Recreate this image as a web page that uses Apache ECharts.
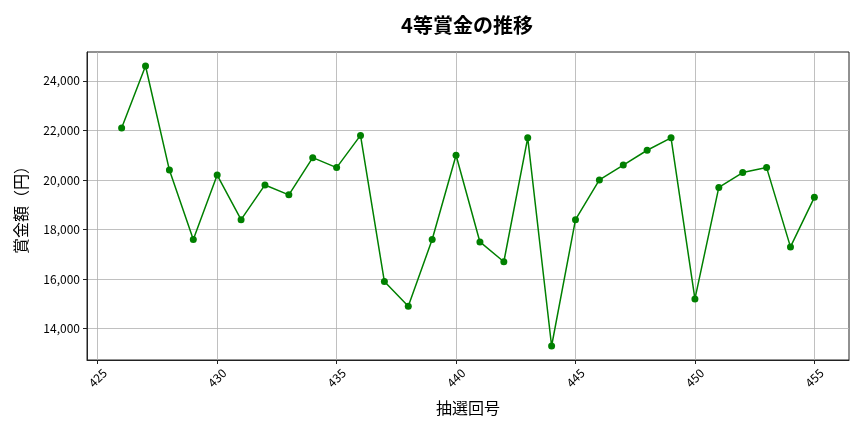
<!DOCTYPE html>
<html>
<head>
<meta charset="utf-8">
<script src="https://cdn.jsdelivr.net/npm/echarts@6/dist/echarts.min.js"></script>
<style>html,body{margin:0;padding:0;background:#fff}#c{width:864px;height:432px}</style>
</head>
<body>
<div id="c"></div>
<script>
const draws = [426,427,428,429,430,431,432,433,434,435,436,437,438,439,440,441,442,443,444,445,446,447,448,449,450,451,452,453,454,455];
const prizes = [22100,24600,20400,17600,20200,18400,19800,19400,20900,20500,21800,15900,14900,17600,21000,17500,16700,21700,13300,18400,20000,20600,21200,21700,15200,19700,20300,20500,17300,19300];
const xTicks = [425,430,435,440,445,450,455];
const yTicks = [14000,16000,18000,20000,22000,24000];
const titleText = '4等賞金の推移';
const xName = '抽選回号';
const yName = '賞金額（円）';

const FONT = "'Noto Sans CJK JP', 'Noto Sans', sans-serif";
const chart = echarts.init(document.getElementById('c'), null, {renderer: 'canvas'});
const pts = draws.map((d, i) => [d, prizes[i]]);
const xMin = 424.55, xMax = 456.45;
const yMin = 12735, yMax = 25165;
const gridLine = {show: true, lineStyle: {color: '#b0b0b0', width: 0.8}};
chart.setOption({
  animation: false,
  backgroundColor: '#ffffff',
  title: {
    text: titleText, left: 462, top: 10, textAlign: 'center',
    textStyle: {fontFamily: FONT, fontSize: 20, fontWeight: 'bold', color: '#000'}
  },
  grid: {left: 87, right: 15, top: 52, bottom: 72, show: true, borderColor: '#222', borderWidth: 1, backgroundColor: 'transparent'},
  xAxis: {
    type: 'value', min: xMin, max: xMax,
    name: xName, nameLocation: 'middle', nameGap: 40,
    nameTextStyle: {fontFamily: FONT, fontSize: 16, color: '#000'},
    axisLine: {show: true, lineStyle: {color: '#222', width: 1}},
    axisTick: {show: true, length: 4, customValues: xTicks, lineStyle: {color: '#222'}},
    axisLabel: {customValues: xTicks, rotate: 45, align: 'center', verticalAlign: 'middle', margin: 18,
      fontFamily: FONT, fontSize: 12, color: '#000'},
    splitLine: gridLine
  },
  yAxis: {
    type: 'value', min: yMin, max: yMax,
    name: yName, nameLocation: 'middle', nameGap: 58,
    nameTextStyle: {fontFamily: FONT, fontSize: 16, color: '#000'},
    axisLine: {show: true, lineStyle: {color: '#222', width: 1}},
    axisTick: {show: true, length: 4, customValues: yTicks, lineStyle: {color: '#222'}},
    axisLabel: {customValues: yTicks, margin: 7, fontFamily: FONT, fontSize: 12, color: '#000',
      formatter: v => v.toLocaleString('en-US')},
    splitLine: gridLine
  },
  series: [{
    type: 'line', data: pts,
    symbol: 'circle', symbolSize: 7,
    lineStyle: {color: '#008000', width: 1.5},
    itemStyle: {color: '#008000'},
    z: 5
  }]
});
</script>
</body>
</html>
